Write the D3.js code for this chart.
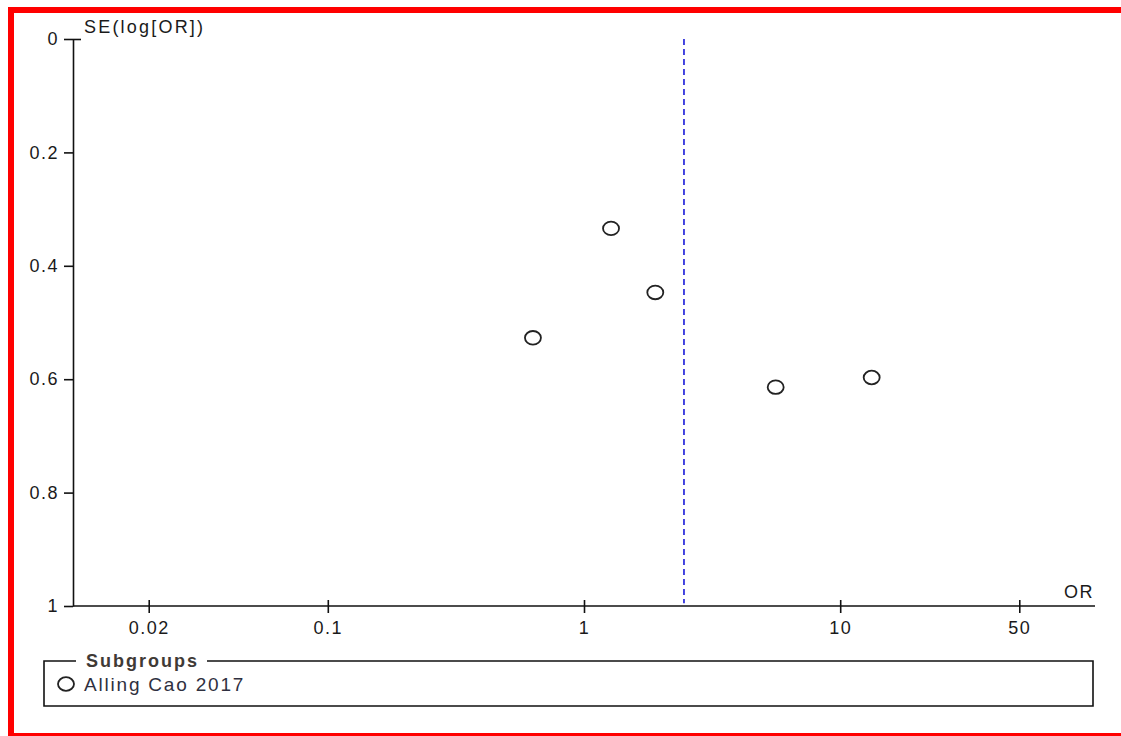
<!DOCTYPE html>
<html>
<head>
<meta charset="utf-8">
<script src="https://cdn.jsdelivr.net/npm/d3@7"></script>
<style>
  html, body { margin: 0; padding: 0; background: #fff; overflow: hidden; }
  svg { display: block; }
  text { font-family: "Liberation Sans", Arial, sans-serif; fill: #1a1a1a; }
</style>
</head>
<body>
<svg id="chart" width="1121" height="736"></svg>
<script>
// Funnel plot: study odds ratios against the standard error of log(OR)
const studyOR = [1.275, 1.898, 0.632, 5.60, 13.27];
const studySE = [0.334, 0.447, 0.527, 0.614, 0.597];
const pooledOR = 2.456;

const xTickValues = [0.02, 0.1, 1, 10, 50];
const yTickValues = [0, 0.2, 0.4, 0.6, 0.8, 1];

const subgroupTitle = "Subgroups";
const subgroupNames = ["Alling Cao 2017"];

const svg = d3.select("#chart");

// outer frame (open on the right)
svg.append("path")
  .attr("d", "M1200,10H11V736H1200")
  .attr("fill", "none").attr("stroke", "#ff0000").attr("stroke-width", 6);

const x = d3.scaleLog().domain([0.01, 100]).range([71.6, 1096.4]);
const y = d3.scaleLinear().domain([0, 1]).range([39, 606]);

const fontSize = 18;
const spacing = 1.5;

function styleText(sel, ls = spacing, size = fontSize) {
  sel.style("font-size", size + "px").style("letter-spacing", ls + "px")
    .style("font-family", "'Liberation Sans', Arial, sans-serif").style("fill", "#1a1a1a");
}

// x axis
const xAxis = svg.append("g")
  .attr("transform", `translate(0,${y(1)})`)
  .call(d3.axisBottom(x).tickValues(xTickValues).tickFormat(d => String(d))
    .tickSizeInner(6).tickSizeOuter(0).tickPadding(9));
xAxis.selectAll(".tick line").attr("y1", -6).attr("y2", 7);
xAxis.selectAll("path, line").attr("stroke", "#111").attr("stroke-width", 1.6);
xAxis.selectAll("text").call(styleText);
xAxis.select(".domain").attr("d", `M73,0H1095`);

// y axis (0 at top)
const yAxis = svg.append("g")
  .attr("transform", `translate(73,0)`)
  .call(d3.axisLeft(y).tickValues(yTickValues).tickFormat(d => String(d))
    .tickSizeInner(9).tickSizeOuter(0).tickPadding(5));
yAxis.selectAll(".tick line").attr("x1", -9).attr("x2", d => d === 0 ? 8 : 0);
yAxis.selectAll("path, line").attr("stroke", "#111").attr("stroke-width", 1.6);
yAxis.selectAll("text").call(styleText);

// axis titles
svg.append("text")
  .attr("x", 84).attr("y", 33)
  .call(styleText, 2.2)
  .text("SE(log[OR])");
svg.append("text")
  .attr("x", 1094).attr("y", 598).attr("text-anchor", "end")
  .call(styleText)
  .text("OR");

// pooled estimate
svg.append("line")
  .attr("x1", x(pooledOR)).attr("x2", x(pooledOR))
  .attr("y1", y(0)).attr("y2", y(0.995))
  .attr("stroke", "#3333dd").attr("stroke-width", 1.8)
  .attr("stroke-dasharray", "6,4");

// studies
const studies = studyOR.map((or, i) => ({ or, se: studySE[i] }));
svg.append("g").selectAll("ellipse")
  .data(studies)
  .join("ellipse")
  .attr("cx", d => x(d.or))
  .attr("cy", d => y(d.se))
  .attr("rx", 8).attr("ry", 6.8)
  .attr("fill", "none").attr("stroke", "#222").attr("stroke-width", 1.8);

// legend box
const lg = svg.append("g");
lg.append("path")
  .attr("d", "M76,661H44V706H1093V661H207")
  .attr("fill", "none").attr("stroke", "#111").attr("stroke-width", 1.6);
lg.append("text")
  .attr("x", 86).attr("y", 667)
  .call(styleText, 2.0)
  .style("font-weight", "bold")
  .style("fill", "#3f3a36")
  .text(subgroupTitle);
subgroupNames.forEach((name, i) => {
  lg.append("ellipse")
    .attr("cx", 66).attr("cy", 684 + i * 22)
    .attr("rx", 8).attr("ry", 6.8)
    .attr("fill", "none").attr("stroke", "#222").attr("stroke-width", 1.8);
  lg.append("text")
    .attr("x", 84).attr("y", 691 + i * 22)
    .call(styleText, 1.8, 19)
    .style("fill", "#2f3040")
    .text(name);
});
</script>
</body>
</html>
